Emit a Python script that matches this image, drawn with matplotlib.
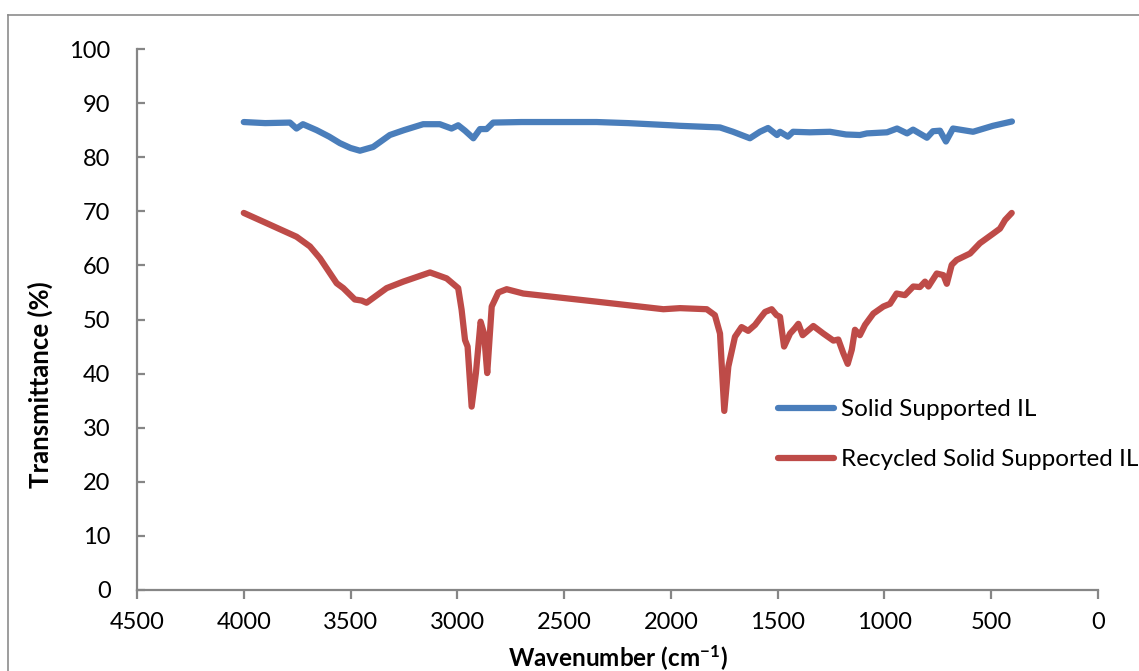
import matplotlib
matplotlib.use("Agg")
import matplotlib.pyplot as plt
from matplotlib.lines import Line2D

# FTIR spectra
blue_wn = [4000, 3900, 3784, 3753, 3723, 3659, 3600, 3550, 3500, 3456,
           3394, 3316, 3250, 3160, 3082, 3027, 2996, 2964, 2925, 2894,
           2863, 2832, 2700, 2500, 2348, 2200, 2000, 1957, 1832, 1770,
           1709, 1630, 1583, 1545, 1503, 1489, 1452, 1428, 1350, 1255,
           1180, 1115, 1082, 988, 941, 894, 866, 801, 773, 740,
           712, 679, 585, 492, 403]
blue_t = [86.5, 86.3, 86.4, 85.3, 86.1, 85.0, 83.8, 82.6, 81.7, 81.2,
          81.9, 84.1, 85.0, 86.1, 86.1, 85.3, 85.9, 84.9, 83.5, 85.2,
          85.2, 86.4, 86.5, 86.5, 86.5, 86.3, 85.9, 85.8, 85.6, 85.5,
          84.7, 83.5, 84.7, 85.4, 84.1, 84.7, 83.8, 84.7, 84.6, 84.7,
          84.2, 84.1, 84.4, 84.6, 85.3, 84.4, 85.1, 83.6, 84.8, 84.9,
          82.9, 85.3, 84.7, 85.8, 86.6]

red_wn = [4000, 3893, 3753, 3690, 3643, 3565, 3534, 3480, 3448, 3425,
          3331, 3253, 3128, 3050, 2996, 2980, 2964, 2952, 2933, 2913,
          2891, 2875, 2860, 2839, 2808, 2769, 2691, 2348, 2035, 1957,
          1832, 1794, 1770, 1750, 1731, 1700, 1669, 1638, 1606, 1583,
          1559, 1528, 1505, 1489, 1470, 1442, 1419, 1403, 1383, 1333,
          1286, 1239, 1216, 1193, 1172, 1153, 1138, 1115, 1091, 1052,
          1005, 974, 943, 904, 865, 834, 810, 794, 755, 724,
          708, 685, 662, 599, 553, 490, 459, 435, 404]
red_t = [69.7, 67.8, 65.3, 63.5, 61.3, 56.7, 55.8, 53.7, 53.5, 53.1,
         55.8, 57.0, 58.7, 57.6, 55.8, 51.8, 46.2, 45.0, 33.9, 40.1,
         49.6, 47.4, 40.1, 52.4, 55.0, 55.6, 54.8, 53.3, 51.9, 52.1,
         51.9, 50.8, 47.4, 33.1, 41.3, 46.8, 48.6, 47.9, 49.0, 50.2,
         51.4, 51.9, 50.8, 50.5, 45.0, 47.4, 48.4, 49.2, 47.1, 48.8,
         47.4, 46.1, 46.3, 43.8, 41.8, 44.4, 48.1, 47.1, 49.0, 51.1,
         52.4, 52.9, 54.8, 54.5, 56.1, 56.0, 57.0, 56.1, 58.5, 58.2,
         56.6, 60.1, 61.0, 62.2, 64.1, 65.9, 66.8, 68.4, 69.7]

labels = ["Solid Supported IL", "Recycled Solid Supported IL"]
colors = ["#4A7EBB", "#BE4B48"]
x_ticks = [4500, 4000, 3500, 3000, 2500, 2000, 1500, 1000, 500, 0]
y_ticks = [0, 10, 20, 30, 40, 50, 60, 70, 80, 90, 100]

plt.rcParams['font.family'] = ['Lato', 'DejaVu Sans']
plt.rcParams['mathtext.fontset'] = 'custom'
plt.rcParams['mathtext.rm'] = 'Lato'
plt.rcParams['mathtext.bf'] = 'Lato:bold'

W, H = 1139, 671
fig = plt.figure(figsize=(W / 100, H / 100), dpi=100)
ax = fig.add_axes([137 / W, 1 - 590 / H, (1098 - 137) / W, (590 - 49) / H])

ax.plot(blue_wn, blue_t, color=colors[0], lw=4.5, solid_capstyle='round',
        solid_joinstyle='round')
ax.plot(red_wn, red_t, color=colors[1], lw=4.5, solid_capstyle='round',
        solid_joinstyle='round')

ax.set_xlim(4500, 0)
ax.set_ylim(0, 100)
ax.set_xticks(x_ticks)
ax.set_yticks(y_ticks)

spine_col = "#868686"
for side in ['top', 'right']:
    ax.spines[side].set_visible(False)
for side in ['left', 'bottom']:
    ax.spines[side].set_color(spine_col)
    ax.spines[side].set_linewidth(1.6)
ax.tick_params(axis='x', direction='out', length=6.5, width=1.6, color=spine_col,
               labelsize=17, pad=9)
ax.tick_params(axis='y', direction='in', length=6, width=1.6, color=spine_col,
               labelsize=17, pad=19)

# axis titles
fig.text(40 / W, 1 - 385 / H, "Transmittance (%)", rotation=90, ha='center',
         va='center', fontsize=18.5, fontweight='bold')
fig.text(618 / W, 1 - 658 / H, r"Wavenumber (cm$\mathbf{^{-1}}$)", ha='center',
         va='center', fontsize=17.5, fontweight='bold')

handles = [Line2D([], [], color=c, lw=4.5, solid_capstyle='round') for c in colors]
fig.legend(handles, labels, loc='upper left', bbox_to_anchor=(778 / W, 1 - 399 / H),
           frameon=False, fontsize=17.5, handlelength=2.3, handletextpad=0.3,
           labelspacing=1.2, borderaxespad=0, borderpad=0)

# outer chart border (left and top edges visible)
fig.add_artist(Line2D([8 / W, 8 / W], [0, 1 - 15 / H], transform=fig.transFigure,
                      color="#8C8C8C", lw=1.2))
fig.add_artist(Line2D([8 / W, 1], [1 - 15 / H, 1 - 15 / H], transform=fig.transFigure,
                      color="#8C8C8C", lw=1.2))

fig.savefig("out.png", dpi=100)
